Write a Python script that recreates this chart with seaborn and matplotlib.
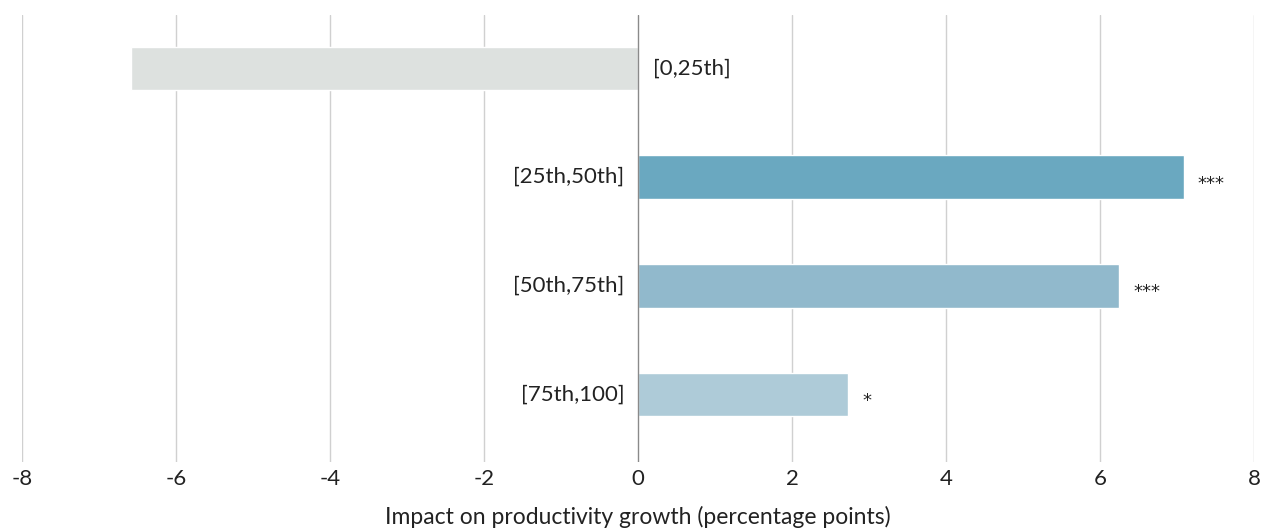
import matplotlib
matplotlib.use("Agg")
import matplotlib.pyplot as plt
import seaborn as sns
import pandas as pd

categories = ["[0,25th]", "[25th,50th]", "[50th,75th]", "[75th,100]"]
values = [-6.58, 7.09, 6.25, 2.73]
stars = ["", "***", "***", "*"]
colors = ["#dde1df", "#6aa8c0", "#91b9cc", "#aecbd8"]
xticks = [-8, -6, -4, -2, 0, 2, 4, 6, 8]

sns.set_theme(style="white")
plt.rcParams['font.family'] = ['Lato', 'DejaVu Sans']

df = pd.DataFrame({"cat": categories, "val": values})

fig = plt.figure(figsize=(12.67, 5.29), dpi=100)
ax = fig.add_axes([22/1267, 1 - 462/529, (1254-22)/1267, (462-15)/529])

sns.barplot(data=df, x="val", y="cat", hue="cat", palette=colors, orient="h",
            width=0.4, saturation=1, legend=False, ax=ax, zorder=3)

for t in xticks:
    ax.axvline(t, color="#d0d0d0" if t != 0 else "#8a8a8a", lw=1.0, zorder=1 if t != 0 else 4)

ax.set_xlim(-8, 8)
ax.set_ylim(3.62, -0.49)
ax.set_xticks(xticks)
ax.set_xticklabels([str(t) for t in xticks], fontsize=16, color="#222222")
ax.tick_params(axis="x", length=0, pad=5)
ax.set_yticks([])
ax.set_ylabel("")
ax.set_xlabel("")
fig.text(638/1267, 1 - 517/529, "Impact on productivity growth (percentage points)",
         ha="center", va="center", fontsize=16.5, color="#222222")
for s in ax.spines.values():
    s.set_visible(False)

for i, (c, v, st) in enumerate(zip(categories, values, stars)):
    if v < 0:
        ax.text(0.2, i, c, ha="left", va="center", fontsize=16, color="#222222", zorder=5)
    else:
        ax.text(-0.18, i, c, ha="right", va="center", fontsize=16, color="#222222", zorder=5)
    if st:
        ax.text(v + 0.18, i + 0.06, st, ha="left", va="center", fontsize=13,
                family="DejaVu Sans", color="#222222", zorder=5)

fig.savefig("out.png", dpi=100)
